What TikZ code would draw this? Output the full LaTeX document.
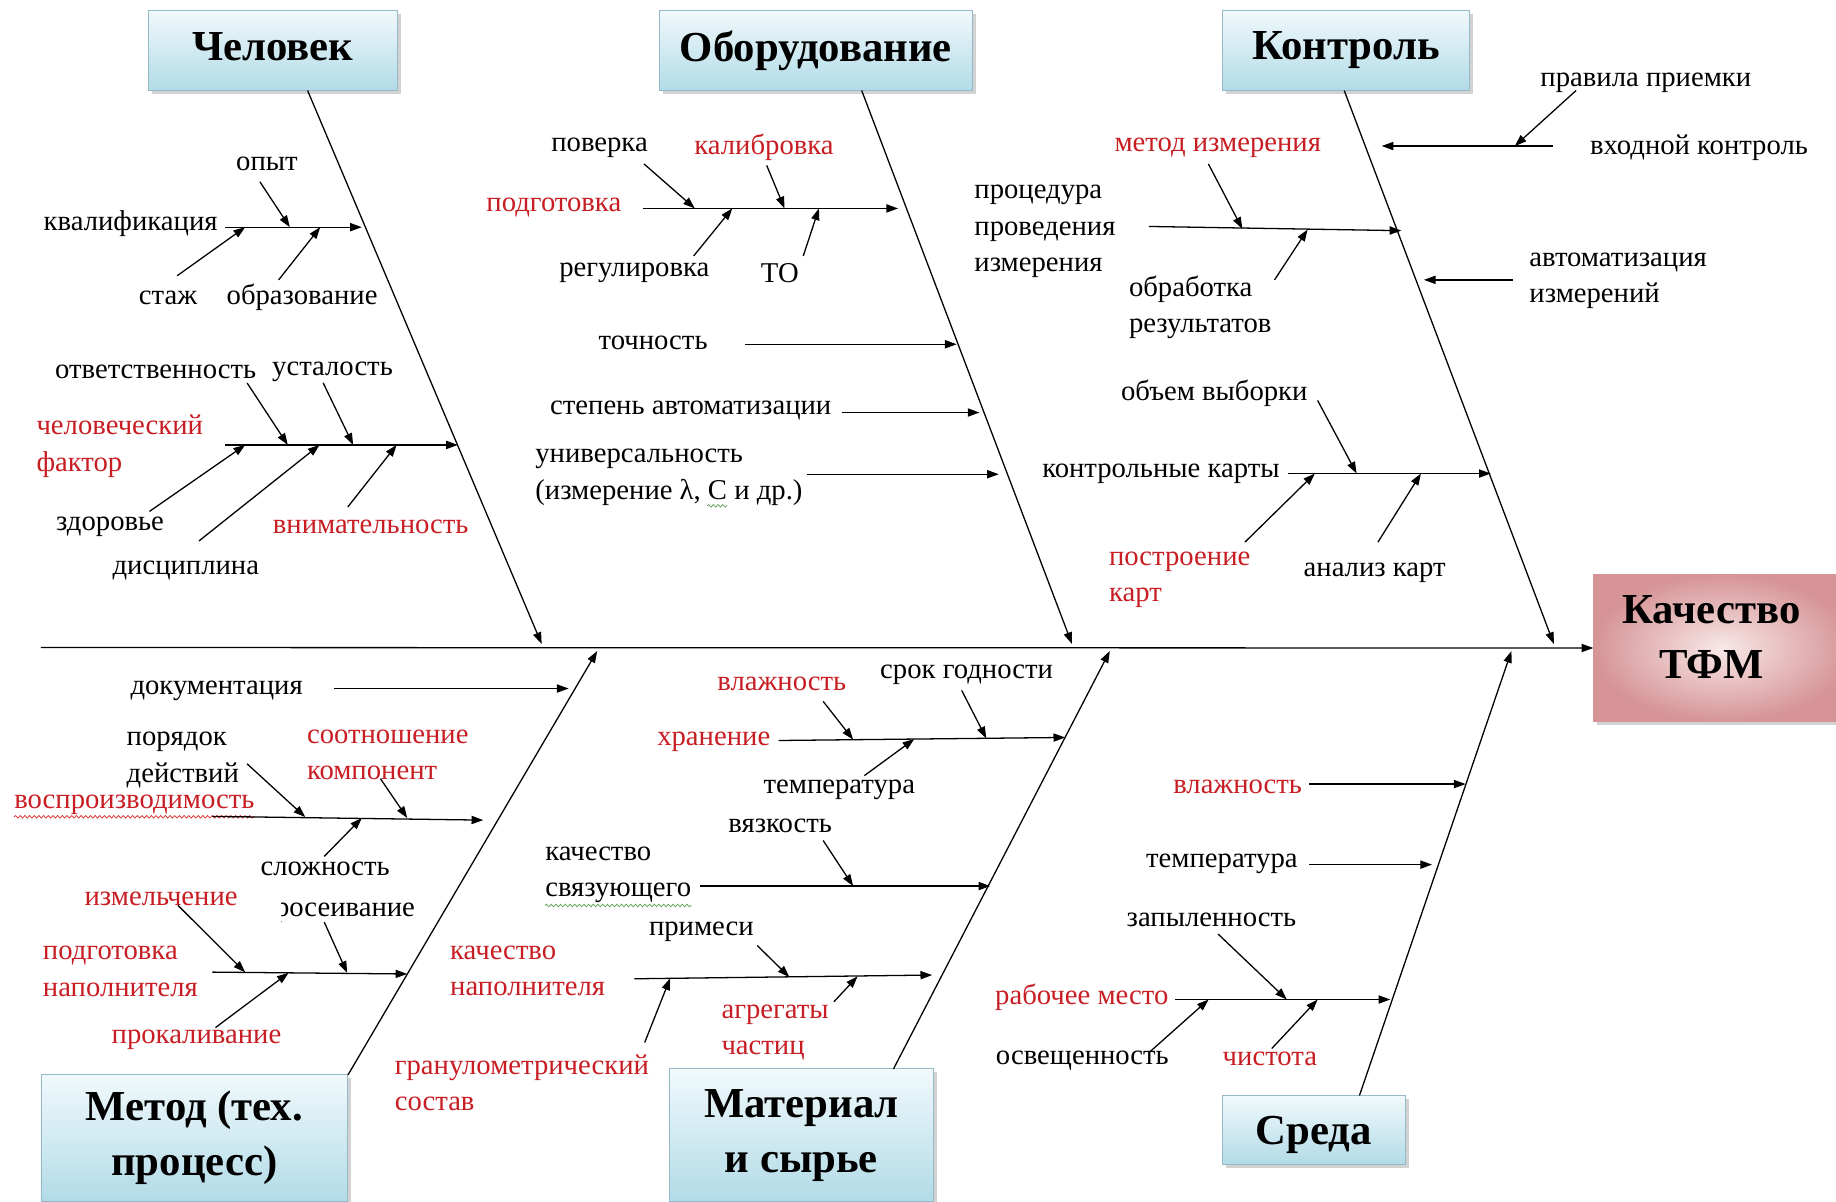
\documentclass[tikz,border=0pt]{standalone}
\usepackage{fontspec}
\setmainfont{Liberation Serif}
\usetikzlibrary{arrows.meta,shadows,decorations.pathmorphing}
\definecolor{redtxt}{RGB}{200,30,35}
\definecolor{boxtop}{RGB}{240,249,252}
\definecolor{boxbot}{RGB}{178,219,231}
\definecolor{boxline}{RGB}{150,185,200}
\definecolor{pinkin}{RGB}{248,232,232}
\definecolor{pinkout}{RGB}{214,148,150}
\definecolor{wavyred}{RGB}{220,40,40}
\definecolor{wavygreen}{RGB}{90,160,80}
\tikzset{
  lbl/.style={inner sep=0pt, font=\fontsize{24.5}{31}\selectfont, text=black, yshift=-2pt},
  rlbl/.style={lbl, text=redtxt},
  ml/.style={align=left, yshift=-3pt},
  head/.style={font=\fontsize{36.5}{47}\bfseries\selectfont, align=center},
  bbox/.style={head, draw=boxline, line width=0.8pt, top color=boxtop, bottom color=boxbot,
    inner sep=0pt, drop shadow={shadow xshift=3pt, shadow yshift=-3pt, opacity=0.35}},
  pbox/.style={draw=pinkout, line width=0.6pt, inner color=pinkin, outer color=pinkout,
    inner sep=0pt, drop shadow={shadow xshift=3pt, shadow yshift=-3pt, opacity=0.35}},
  arr/.style={-{Triangle[length=10pt,width=7pt]}, line width=1.1pt},
  wavyr/.style={draw=wavyred, line width=0.6pt, decorate, decoration={snake, amplitude=1.1pt, segment length=4pt}},
  wavyg/.style={draw=wavygreen, line width=0.6pt, decorate, decoration={snake, amplitude=1.1pt, segment length=4pt}},
}
\begin{document}
\begin{tikzpicture}[x=1pt,y=-1pt]
\useasboundingbox (0,0) rectangle (1568,1026);
\fill[white] (0,0) rectangle (1568,1026);

% ---------- boxes ----------
\node[bbox, minimum width=213, minimum height=68, text depth=7pt] (chel) at (233,43) {Человек};
\node[bbox, minimum width=267, minimum height=68] (obor) at (696.7,43) {Оборудование};
\node[bbox, minimum width=211, minimum height=68] (kontr) at (1149.7,43) {Контроль};
\node[bbox, minimum width=262, minimum height=108] (metod) at (166,972) {Метод (тех.\\процесс)};
\node[bbox, minimum width=226, minimum height=113] (mater) at (684.4,969.4) {Материал\\и сырье};
\node[bbox, minimum width=156, minimum height=59, text height=32pt] (sreda) at (1122,965.3) {Среда};
\node[pbox, minimum width=220, minimum height=126] (kach) at (1471,553.4) {};
\node[head] (kachtxt) at (1461.6,543.7) {Качество\\ТФМ};

% ---------- spine and main bones ----------
\coordinate (spL) at (35,553);
\draw[arr] (spL) -- (kach.west);
\coordinate (c0) at (262.7,77.3);  \coordinate (c1) at (462.6,550);
\coordinate (o0) at (735.9,77.3);  \coordinate (o1) at (915.5,550);
\coordinate (k0) at (1148,77.3);   \coordinate (kt1) at (1327,550);
\coordinate (m0) at (297.2,918);   \coordinate (m1) at (510,556);
\coordinate (mt0) at (763,913);    \coordinate (mt1) at (947.8,556);
\coordinate (s0) at (1161,935.6);  \coordinate (s1) at (1290.8,556);
\draw[arr] (c0) -- (c1);
\draw[arr] (o0) -- (o1);
\draw[arr] (k0) -- (kt1);
\draw[arr] (m0) -- (m1);
\draw[arr] (mt0) -- (mt1);
\draw[arr] (s0) -- (s1);

% ---------- Человек ----------
\node[lbl, anchor=east] (kval) at (186,189) {квалификация};
\node[lbl] (opyt) at (228,138) {опыт};
\node[lbl] (stazh) at (143.5,252) {стаж};
\node[lbl] (obraz) at (258,252) {образование};
\node[lbl] (otv) at (133,315.6) {ответственность};
\node[lbl] (ust) at (284,315.6) {усталость};
\node[rlbl, ml, anchor=west] (chf) at (31,376) {человеческий\\фактор};
\node[lbl] (zdor) at (94,447.6) {здоровье};
\node[lbl] (disc) at (158.7,485) {дисциплина};
\node[rlbl] (vnim) at (316.6,447.6) {внимательность};

\coordinate (k1a) at (192.5,194); \coordinate (k1b) at (309,194);
\draw[arr] (k1a) -- (k1b);
\coordinate (aopyt) at (222,155.3); \coordinate (topyt) at (247.5,194);
\draw[arr] (aopyt) -- (topyt);
\coordinate (astazh) at (151.3,235.5); \coordinate (tstazh) at (209.4,194);
\draw[arr] (astazh) -- (tstazh);
\coordinate (aobr) at (238,239); \coordinate (tobr) at (273.5,194);
\draw[arr] (aobr) -- (tobr);

\coordinate (k2a) at (192.5,380); \coordinate (k2b) at (391,380);
\draw[arr] (k2a) -- (k2b);
\coordinate (aotv) at (211,327); \coordinate (totv) at (245.8,380);
\draw[arr] (aotv) -- (totv);
\coordinate (aust) at (276,327); \coordinate (tust) at (301.6,380);
\draw[arr] (aust) -- (tust);
\coordinate (azd) at (127.6,436.8); \coordinate (tzd) at (209.4,380);
\draw[arr] (azd) -- (tzd);
\coordinate (adis) at (169.9,462); \coordinate (tdis) at (272.9,380);
\draw[arr] (adis) -- (tdis);
\coordinate (avn) at (297,433); \coordinate (tvn) at (338.7,380);
\draw[arr] (avn) -- (tvn);

% ---------- Оборудование ----------
\node[rlbl] (podg) at (473,175.4) {подготовка};
\node[lbl] (pover) at (512,124) {поверка};
\node[rlbl] (kalib) at (652.5,124) {калибровка};
\node[lbl] (regul) at (541.7,231) {регулировка};
\node[lbl] (to) at (666,231) {ТО};
\node[lbl] (toch) at (557.8,290.5) {точность};
\node[lbl] (stepavt) at (589.9,348.7) {степень автоматизации};
\node[lbl, ml, anchor=west] (univ) at (457,402.5) {универсальность\\(измерение λ, С и др.)};

\coordinate (p1a) at (549.5,178); \coordinate (p1b) at (767,178);
\draw[arr] (p1a) -- (p1b);
\coordinate (apov) at (550,140); \coordinate (tpov) at (593.4,178);
\draw[arr] (apov) -- (tpov);
\coordinate (akal) at (654.8,141.3); \coordinate (tkal) at (670,178);
\draw[arr] (akal) -- (tkal);
\coordinate (areg) at (592.4,218.6); \coordinate (treg) at (625.4,178);
\draw[arr] (areg) -- (treg);
\coordinate (ato) at (686,218.6); \coordinate (tto) at (699.4,178);
\draw[arr] (ato) -- (tto);
\coordinate (atoch) at (636.3,294); \coordinate (ttoch) at (817,294);
\draw[arr] (atoch) -- (ttoch);
\coordinate (astep) at (719,352.3); \coordinate (tstep) at (836.5,352.3);
\draw[arr] (astep) -- (tstep);
\coordinate (auniv) at (689,405); \coordinate (tuniv) at (853,405);
\draw[arr] (auniv) -- (tuniv);
\coordinate (wc0) at (604,432); \coordinate (wc1) at (621,432);
\draw[wavyg] (wc0) -- (wc1);

% ---------- Контроль ----------
\node[lbl] (prav) at (1405.6,69) {правила приемки};
\node[lbl] (vhod) at (1451,124) {входной контроль};
\node[rlbl] (metizm) at (1040,124) {метод измерения};
\node[lbl, ml, anchor=west] (proc) at (832,192.7) {процедура\\проведения\\измерения};
\node[lbl, ml, anchor=west] (obrab) at (964,257.4) {обработка\\результатов};
\node[lbl, ml, anchor=west] (avtizm) at (1306,235) {автоматизация\\измерений};
\node[lbl] (obem) at (1037,333.6) {объем выборки};
\node[lbl, anchor=east] (kk) at (1093,402.6) {контрольные карты};
\node[rlbl, ml, anchor=west] (postr) at (947,490) {построение\\карт};
\node[lbl] (anal) at (1174,487) {анализ карт};

\coordinate (aprav) at (1346,77.3); \coordinate (tprav) at (1293.7,124.7);
\draw[arr] (aprav) -- (tprav);
\coordinate (avhod) at (1326.6,124.7); \coordinate (tvhod) at (1180,124.7);
\draw[arr] (avhod) -- (tvhod);
\coordinate (q1a) at (981.2,193.4); \coordinate (q1b) at (1196.8,197);
\draw[arr] (q1a) -- (q1b);
\coordinate (amet) at (1032,140); \coordinate (tmet) at (1061,195.5);
\draw[arr] (amet) -- (tmet);
\coordinate (aobrab) at (1088.5,239); \coordinate (tobrab) at (1116.7,196);
\draw[arr] (aobrab) -- (tobrab);
\coordinate (aavt) at (1292,239); \coordinate (tavt) at (1216,239);
\draw[arr] (aavt) -- (tavt);
\coordinate (q2a) at (1100.4,404.4); \coordinate (q2b) at (1273.1,404.4);
\draw[arr] (q2a) -- (q2b);
\coordinate (aobem) at (1125.3,342); \coordinate (tobem) at (1158.6,404.4);
\draw[arr] (aobem) -- (tobem);
\coordinate (apostr) at (1063.2,463); \coordinate (tpostr) at (1122.9,404.4);
\draw[arr] (apostr) -- (tpostr);
\coordinate (aanal) at (1176.8,463); \coordinate (tanal) at (1213.5,404.4);
\draw[arr] (aanal) -- (tanal);

% ---------- Метод ----------
\node[lbl] (doc) at (185,588) {документация};
\node[lbl, ml, anchor=west] (por) at (108,644) {порядок\\действий};
\node[rlbl, ml, anchor=west] (sootn) at (262,639.5) {соотношение\\компонент};
\node[rlbl, anchor=west] (vospr) at (12,685) {воспроизводимость};
\node[lbl] (slozh) at (277.7,740) {сложность};
\node[rlbl] (izm) at (137.6,765.3) {измельчение};
\begin{scope}
\clip (240,755) rectangle (400,800);
\node[lbl, anchor=east] (pros) at (354.6,777.3) {просеивание};
\end{scope}
\node[rlbl, ml, anchor=west] (podgnap) at (36.5,824.6) {подготовка\\наполнителя};
\node[rlbl] (prokal) at (167.8,885.6) {прокаливание};
\draw[wavyr] ([yshift=-2pt]vospr.south west) -- ([yshift=-2pt]vospr.south east);

\coordinate (adoc) at (285.4,588); \coordinate (tdoc) at (485.6,588);
\draw[arr] (adoc) -- (tdoc);
\coordinate (r1a) at (181.3,697.2); \coordinate (r1b) at (412.7,700.4);
\draw[arr] (r1a) -- (r1b);
\coordinate (apor) at (211,652.3); \coordinate (tpor) at (260.7,697.8);
\draw[arr] (apor) -- (tpor);
\coordinate (asootn) at (324.9,665); \coordinate (tsootn) at (347.8,698.6);
\draw[arr] (asootn) -- (tsootn);
\coordinate (aslozh) at (276.9,731.4); \coordinate (tslozh) at (309,698.6);
\draw[arr] (aslozh) -- (tslozh);
\coordinate (r2a) at (181.3,830.2); \coordinate (r2b) at (347.8,831.8);
\draw[arr] (r2a) -- (r2b);
\coordinate (aizm) at (152,773.2); \coordinate (tizm) at (209.4,830.4);
\draw[arr] (aizm) -- (tizm);
\coordinate (apros) at (276.9,787.5); \coordinate (tpros) at (296.5,830.9);
\draw[arr] (apros) -- (tpros);
\coordinate (aprok) at (184,877.6); \coordinate (tprok) at (246.5,830.8);
\draw[arr] (aprok) -- (tprok);

% ---------- Материал ----------
\node[rlbl] (vlazh) at (667.7,581.7) {влажность};
\node[lbl] (srok) at (825.5,574.4) {срок годности};
\node[rlbl, anchor=east] (hran) at (658,631.4) {хранение};
\node[lbl] (temp) at (716.8,672.6) {температура};
\node[lbl] (vyaz) at (666.3,703) {вязкость};
\node[lbl, ml, anchor=west] (kachsv) at (465.5,742.2) {качество\\связующего};
\node[lbl] (prim) at (599,793.8) {примеси};
\node[rlbl, ml, anchor=west] (kachnap) at (384.3,824) {качество\\наполнителя};
\node[rlbl, ml, anchor=west] (gran) at (337,920) {гранулометрический\\состав};
\node[rlbl, ml, anchor=west] (agr) at (616,877) {агрегаты\\частиц};
\draw[wavyg] ([yshift=-2pt]kachsv.south west) -- ([yshift=-2pt]kachsv.south east);

\coordinate (u1a) at (665,632.4); \coordinate (u1b) at (909.7,629.8);
\draw[arr] (u1a) -- (u1b);
\coordinate (avl) at (703,599); \coordinate (tvl) at (728.6,631.6);
\draw[arr] (avl) -- (tvl);
\coordinate (asrok) at (821.3,589.6); \coordinate (tsrok) at (842.3,630.6);
\draw[arr] (asrok) -- (tsrok);
\coordinate (atemp) at (738.2,662.4); \coordinate (ttemp) at (780.8,631.2);
\draw[arr] (atemp) -- (ttemp);
\coordinate (u2a) at (597.8,756.7); \coordinate (u2b) at (845.7,756.7);
\draw[arr] (u2a) -- (u2b);
\coordinate (avyaz) at (703,717.8); \coordinate (tvyaz) at (728.6,756.7);
\draw[arr] (avyaz) -- (tvyaz);
\coordinate (u3a) at (541.8,835.9); \coordinate (u3b) at (796.1,832.7);
\draw[arr] (u3a) -- (u3b);
\coordinate (aprim) at (646.6,807.4); \coordinate (tprim) at (674.1,834.4);
\draw[arr] (aprim) -- (tprim);
\coordinate (agran) at (550.6,890.3); \coordinate (tgran) at (572.3,835.5);
\draw[arr] (agran) -- (tgran);
\coordinate (aagr) at (712.2,855.5); \coordinate (tagr) at (732.4,833.8);
\draw[arr] (aagr) -- (tagr);

% ---------- Среда ----------
\node[rlbl] (vl2) at (1057,669.6) {влажность};
\node[lbl] (temp2) at (1043.5,736) {температура};
\node[lbl] (zap) at (1034.6,783.8) {запыленность};
\node[rlbl, anchor=east] (rab) at (998,850) {рабочее место};
\node[lbl] (osv) at (924.4,903.5) {освещенность};
\node[rlbl] (chist) at (1084.5,902.5) {чистота};

\coordinate (avl2) at (1118.1,669.6); \coordinate (tvl2) at (1251.7,669.6);
\draw[arr] (avl2) -- (tvl2);
\coordinate (atemp2) at (1118.1,738.4); \coordinate (ttemp2) at (1223,738.4);
\draw[arr] (atemp2) -- (ttemp2);
\coordinate (v1a) at (1003.6,853.6); \coordinate (v1b) at (1187.3,853.6);
\draw[arr] (v1a) -- (v1b);
\coordinate (azap) at (1040.3,797.7); \coordinate (tzap) at (1099,853.6);
\draw[arr] (azap) -- (tzap);
\coordinate (aosv) at (981.2,899); \coordinate (tosv) at (1032.2,853.6);
\draw[arr] (aosv) -- (tosv);
\coordinate (achist) at (1086.1,895.5); \coordinate (tchist) at (1125.3,853.6);
\draw[arr] (achist) -- (tchist);
\end{tikzpicture}
\end{document}
